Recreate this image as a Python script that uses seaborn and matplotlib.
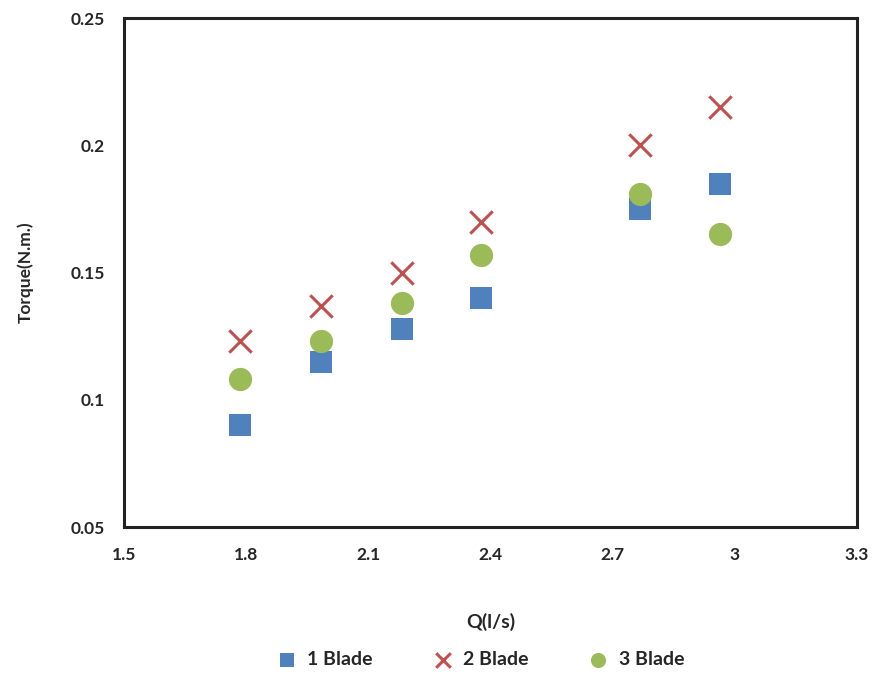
import numpy as np
import pandas as pd
import seaborn as sns
import matplotlib.pyplot as plt
from matplotlib.ticker import FuncFormatter

# flow rate (l/s) and torque readings for each blade count
flow = [1.785, 1.984, 2.183, 2.377, 2.767, 2.964]
torque_1 = [0.090, 0.115, 0.128, 0.140, 0.175, 0.185]
torque_2 = [0.123, 0.137, 0.150, 0.170, 0.200, 0.215]
torque_3 = [0.108, 0.123, 0.138, 0.157, 0.181, 0.165]
labels = ["1 Blade", "2 Blade", "3 Blade"]

df = pd.DataFrame({
    "Q": flow * 3,
    "Torque": torque_1 + torque_2 + torque_3,
    "Blade": [labels[0]] * 6 + [labels[1]] * 6 + [labels[2]] * 6,
})

sns.set_style("white")
plt.rcParams['font.family'] = ['Lato', 'DejaVu Sans']
plt.rcParams['font.weight'] = 'bold'

fig = plt.figure(figsize=(8.76, 6.74), dpi=100)
ax = fig.add_axes([0.1416, 0.218, 0.8366, 0.755])

colors = {"1 Blade": "#4F81BD", "2 Blade": "#C0504D", "3 Blade": "#9BBB59"}
sizes = {"1 Blade": 240, "2 Blade": 260, "3 Blade": 280}

for lab in labels:
    sub = df[df.Blade == lab]
    if lab == "2 Blade":
        sns.scatterplot(data=sub, x="Q", y="Torque", ax=ax, color=colors[lab],
                        marker="x", s=sizes[lab], linewidth=2.2, label=lab)
    else:
        mk = "s" if lab == "1 Blade" else "o"
        sns.scatterplot(data=sub, x="Q", y="Torque", ax=ax, color=colors[lab],
                        marker=mk, s=sizes[lab], linewidth=0, label=lab)

ax.set_xlim(1.5, 3.3)
ax.set_ylim(0.05, 0.25)
ax.set_xticks([1.5, 1.8, 2.1, 2.4, 2.7, 3.0, 3.3])
ax.set_yticks([0.05, 0.1, 0.15, 0.2, 0.25])
ax.xaxis.set_major_formatter(FuncFormatter(lambda v, p: f"{v:g}"))
ax.yaxis.set_major_formatter(FuncFormatter(lambda v, p: f"{v:g}"))
ax.tick_params(axis='both', length=0, labelsize=12.5, pad=14)
for lbl in ax.get_xticklabels() + ax.get_yticklabels():
    lbl.set_fontweight('bold')

for sp in ax.spines.values():
    sp.set_color('#222222')
    sp.set_linewidth(2.2)

ax.set_xlabel("Q(l/s)", fontsize=14, fontweight='bold', labelpad=36)
ax.set_ylabel("Torque(N.m.)", fontsize=12.5, fontweight='bold', labelpad=26)

ax.legend(loc='upper center', bbox_to_anchor=(0.48, -0.21), ncol=3,
          frameon=False, handletextpad=0.05, columnspacing=2.6,
          markerscale=0.65, prop={'weight': 'bold', 'size': 14})

fig.savefig("out.png", dpi=100)
